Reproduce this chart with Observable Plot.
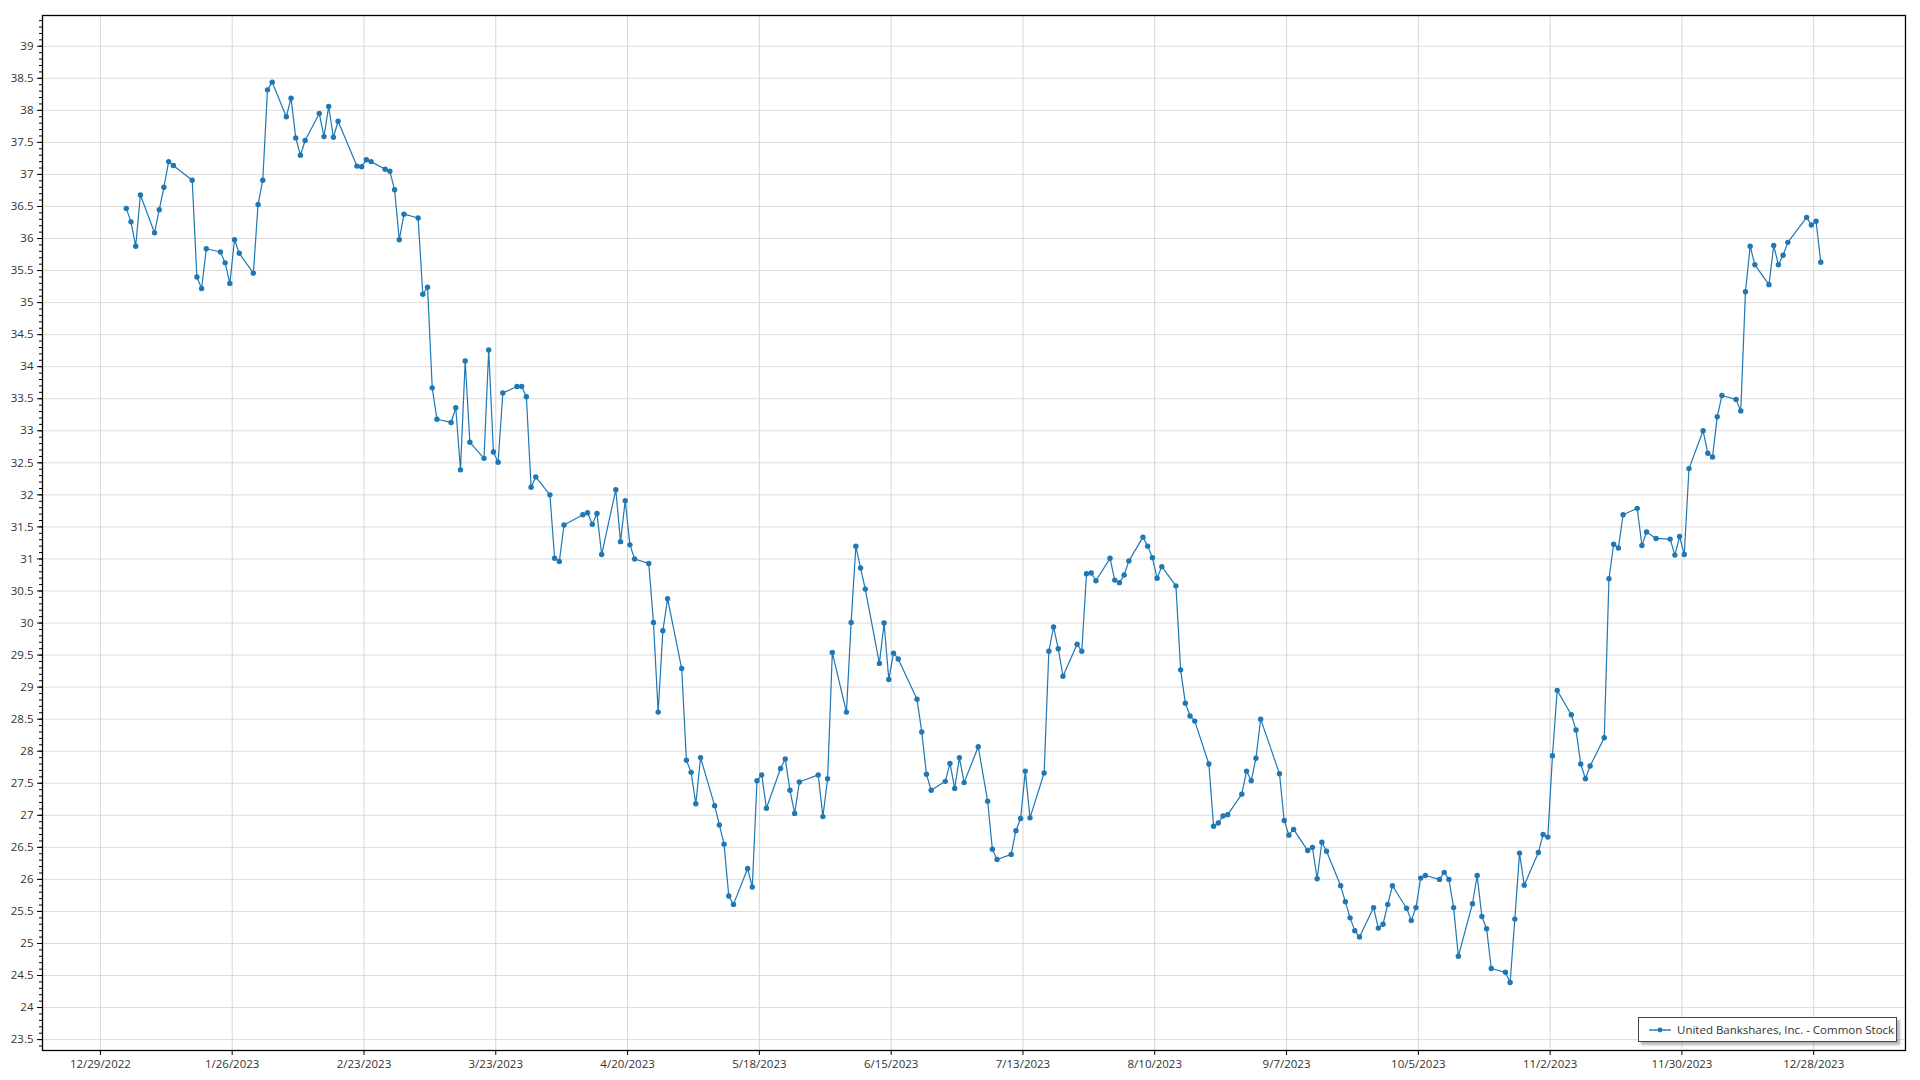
<!DOCTYPE html>
<html>
<head>
<meta charset="utf-8">
<script src="https://cdn.jsdelivr.net/npm/d3@7"></script>
<script src="https://cdn.jsdelivr.net/npm/@observablehq/plot@0.6"></script>
<style>
  html, body { margin: 0; padding: 0; background: #fff; }
  #wrap { position: relative; width: 1920px; height: 1080px; }
  #legend {
    position: absolute; left: 1638px; top: 1017px; width: 259px; height: 25px;
    box-sizing: border-box; border: 1px solid #444; background: #fff;
    box-shadow: 3px 3px 2px rgba(0,0,0,0.28);
    font-family: "Open Sans", sans-serif; font-size: 11.5px; color: #333;
    display: flex; align-items: center;
  }
  #legend svg { margin-left: 9px; margin-right: 5px; }
</style>
</head>
<body>
<div id="wrap">
  <div id="chart"></div>
  <div id="legend"></div>
</div>
<script>
const seriesName = "United Bankshares, Inc. - Common Stock";

const tradingDates = [
  "2023-01-03","2023-01-04","2023-01-05","2023-01-06","2023-01-09","2023-01-10","2023-01-11","2023-01-12","2023-01-13","2023-01-17",
  "2023-01-18","2023-01-19","2023-01-20","2023-01-23","2023-01-24","2023-01-25","2023-01-26","2023-01-27","2023-01-30","2023-01-31",
  "2023-02-01","2023-02-02","2023-02-03","2023-02-06","2023-02-07","2023-02-08","2023-02-09","2023-02-10","2023-02-13","2023-02-14",
  "2023-02-15","2023-02-16","2023-02-17","2023-02-21","2023-02-22","2023-02-23","2023-02-24","2023-02-27","2023-02-28",
  "2023-03-01","2023-03-02","2023-03-03","2023-03-06","2023-03-07","2023-03-08","2023-03-09","2023-03-10","2023-03-13","2023-03-14",
  "2023-03-15","2023-03-16","2023-03-17","2023-03-20","2023-03-21","2023-03-22","2023-03-23","2023-03-24","2023-03-27","2023-03-28",
  "2023-03-29","2023-03-30","2023-03-31",
  "2023-04-03","2023-04-04","2023-04-05","2023-04-06","2023-04-10","2023-04-11","2023-04-12","2023-04-13","2023-04-14","2023-04-17",
  "2023-04-18","2023-04-19","2023-04-20","2023-04-21","2023-04-24","2023-04-25","2023-04-26","2023-04-27","2023-04-28",
  "2023-05-01","2023-05-02","2023-05-03","2023-05-04","2023-05-05","2023-05-08","2023-05-09","2023-05-10","2023-05-11","2023-05-12",
  "2023-05-15","2023-05-16","2023-05-17","2023-05-18","2023-05-19","2023-05-22","2023-05-23","2023-05-24","2023-05-25","2023-05-26",
  "2023-05-30","2023-05-31",
  "2023-06-01","2023-06-02","2023-06-05","2023-06-06","2023-06-07","2023-06-08","2023-06-09","2023-06-12","2023-06-13","2023-06-14",
  "2023-06-15","2023-06-16","2023-06-20","2023-06-21","2023-06-22","2023-06-23","2023-06-26","2023-06-27","2023-06-28","2023-06-29",
  "2023-06-30",
  "2023-07-03","2023-07-05","2023-07-06","2023-07-07","2023-07-10","2023-07-11","2023-07-12","2023-07-13","2023-07-14","2023-07-17",
  "2023-07-18","2023-07-19","2023-07-20","2023-07-21","2023-07-24","2023-07-25","2023-07-26","2023-07-27","2023-07-28","2023-07-31",
  "2023-08-01","2023-08-02","2023-08-03","2023-08-04","2023-08-07","2023-08-08","2023-08-09","2023-08-10","2023-08-11","2023-08-14",
  "2023-08-15","2023-08-16","2023-08-17","2023-08-18","2023-08-21","2023-08-22","2023-08-23","2023-08-24","2023-08-25","2023-08-28",
  "2023-08-29","2023-08-30","2023-08-31",
  "2023-09-01","2023-09-05","2023-09-06","2023-09-07","2023-09-08","2023-09-11","2023-09-12","2023-09-13","2023-09-14","2023-09-15",
  "2023-09-18","2023-09-19","2023-09-20","2023-09-21","2023-09-22","2023-09-25","2023-09-26","2023-09-27","2023-09-28","2023-09-29",
  "2023-10-02","2023-10-03","2023-10-04","2023-10-05","2023-10-06","2023-10-09","2023-10-10","2023-10-11","2023-10-12","2023-10-13",
  "2023-10-16","2023-10-17","2023-10-18","2023-10-19","2023-10-20","2023-10-23","2023-10-24","2023-10-25","2023-10-26","2023-10-27",
  "2023-10-30","2023-10-31",
  "2023-11-01","2023-11-02","2023-11-03","2023-11-06","2023-11-07","2023-11-08","2023-11-09","2023-11-10","2023-11-13","2023-11-14",
  "2023-11-15","2023-11-16","2023-11-17","2023-11-20","2023-11-21","2023-11-22","2023-11-24","2023-11-27","2023-11-28","2023-11-29",
  "2023-11-30",
  "2023-12-01","2023-12-04","2023-12-05","2023-12-06","2023-12-07","2023-12-08","2023-12-11","2023-12-12","2023-12-13","2023-12-14",
  "2023-12-15","2023-12-18","2023-12-19","2023-12-20","2023-12-21","2023-12-22","2023-12-26","2023-12-27","2023-12-28","2023-12-29"
];

const closePrices = [
  36.47,36.26,35.88,36.68,36.09,36.45,36.80,37.20,37.14,36.91,
  35.40,35.22,35.84,35.79,35.62,35.30,35.98,35.77,35.46,36.53,
  36.91,38.32,38.44,37.90,38.19,37.57,37.30,37.53,37.95,37.59,
  38.06,37.58,37.83,37.13,37.12,37.23,37.20,37.08,37.05,
  36.76,35.98,36.38,36.32,35.13,35.24,33.67,33.18,33.13,33.36,
  32.39,34.09,32.82,32.57,34.26,32.67,32.51,33.59,33.69,33.69,
  33.53,32.12,32.28,
  32.00,31.01,30.96,31.53,31.69,31.72,31.54,31.71,31.07,32.08,
  31.27,31.91,31.22,31.00,30.93,30.01,28.61,29.88,30.38,
  29.29,27.86,27.67,27.18,27.90,27.15,26.85,26.55,25.74,25.61,
  26.17,25.88,27.54,27.63,27.11,27.73,27.88,27.39,27.03,27.52,
  27.63,26.98,
  27.57,29.54,28.61,30.01,31.20,30.86,30.53,29.37,30.00,29.12,
  29.53,29.44,28.81,28.30,27.64,27.39,27.53,27.81,27.42,27.90,
  27.51,
  28.07,27.22,26.47,26.31,26.39,26.76,26.95,27.69,26.96,27.66,
  29.56,29.94,29.60,29.17,29.67,29.56,30.77,30.78,30.66,31.01,
  30.67,30.63,30.75,30.97,31.34,31.20,31.02,30.70,30.88,30.58,
  29.27,28.75,28.55,28.47,27.80,26.83,26.88,26.99,27.01,27.33,
  27.69,27.54,27.89,
  28.50,27.65,26.92,26.69,26.78,26.45,26.50,26.01,26.58,26.44,
  25.90,25.65,25.40,25.20,25.10,25.56,25.24,25.30,25.61,25.90,
  25.55,25.36,25.56,26.02,26.06,26.00,26.11,26.00,25.56,24.80,
  25.62,26.06,25.42,25.23,24.61,24.55,24.39,25.38,26.41,25.91,
  26.42,26.70,
  26.66,27.93,28.95,28.57,28.33,27.80,27.57,27.77,28.21,30.69,
  31.23,31.17,31.69,31.79,31.21,31.42,31.32,31.31,31.06,31.35,
  31.07,
  32.41,33.00,32.65,32.59,33.22,33.55,33.49,33.31,35.17,35.88,
  35.59,35.28,35.89,35.59,35.74,35.94,36.33,36.21,36.27,35.63
];

const xTickDates = [
  "2022-12-29","2023-01-26","2023-02-23","2023-03-23","2023-04-20","2023-05-18","2023-06-15",
  "2023-07-13","2023-08-10","2023-09-07","2023-10-05","2023-11-02","2023-11-30","2023-12-28"
];

const yTicks = [23.5,24,24.5,25,25.5,26,26.5,27,27.5,28,28.5,29,29.5,30,30.5,31,31.5,32,32.5,33,33.5,34,34.5,35,35.5,36,36.5,37,37.5,38,38.5,39];

const parse = d3.utcParse("%Y-%m-%d");
const DAY = 864e5;
// closing prices are stamped at midday of each trading day
const rows = tradingDates.map((d, i) => ({date: new Date(parse(d).getTime() + 0.5 * DAY), close: closePrices[i]}));
const xTicks = xTickDates.map(parse);
const xDomain = [new Date(xTicks[0].getTime() - 12.3 * DAY), new Date(xTicks[0].getTime() + 383.5 * DAY)];
const yDomain = [23.33, 39.48];
const minorTicks = d3.range(234, 395).map(v => v / 10).filter(v => v > yDomain[0] && v < yDomain[1]);
const color = "#1f77b4";

const chart = Plot.plot({
  width: 1920,
  height: 1080,
  marginLeft: 42,
  marginRight: 15,
  marginTop: 15,
  marginBottom: 30,
  style: {fontFamily: "'Open Sans', sans-serif", fontSize: "11.5px", color: "#333", background: "#fff", overflow: "visible"},
  x: {type: "utc", domain: xDomain, label: null},
  y: {domain: yDomain, label: null},
  marks: [
    Plot.gridY(yTicks, {stroke: "#dcdcdc", strokeOpacity: 1, strokeWidth: 1}),
    Plot.gridX(xTicks, {stroke: "#d6d6d6", strokeOpacity: 1, strokeWidth: 1}),
    Plot.axisY(minorTicks, {tickSize: 3, tickFormat: () => "", stroke: "#000", label: null}),
    Plot.axisY(yTicks, {tickSize: 5, tickPadding: 4, tickFormat: d => String(d), stroke: "#000", fill: "#333", label: null}),
    Plot.axisX(xTicks, {tickSize: 5, tickPadding: 4, tickFormat: d3.utcFormat("%-m/%-d/%Y"), stroke: "#000", fill: "#333", label: null}),
    Plot.frame({stroke: "#000", strokeWidth: 1.3}),
    Plot.line(rows, {x: "date", y: "close", stroke: color, strokeWidth: 1.2}),
    Plot.dot(rows, {x: "date", y: "close", r: 2.7, fill: color, stroke: "none"})
  ]
});
document.getElementById("chart").appendChild(chart);

const legend = document.getElementById("legend");
legend.innerHTML = `<svg width="24" height="10"><line x1="1" y1="5" x2="23" y2="5" stroke="${color}" stroke-opacity="0.7" stroke-width="2"/><circle cx="12" cy="5" r="2.4" fill="${color}"/></svg><span>${seriesName}</span>`;
</script>
</body>
</html>
